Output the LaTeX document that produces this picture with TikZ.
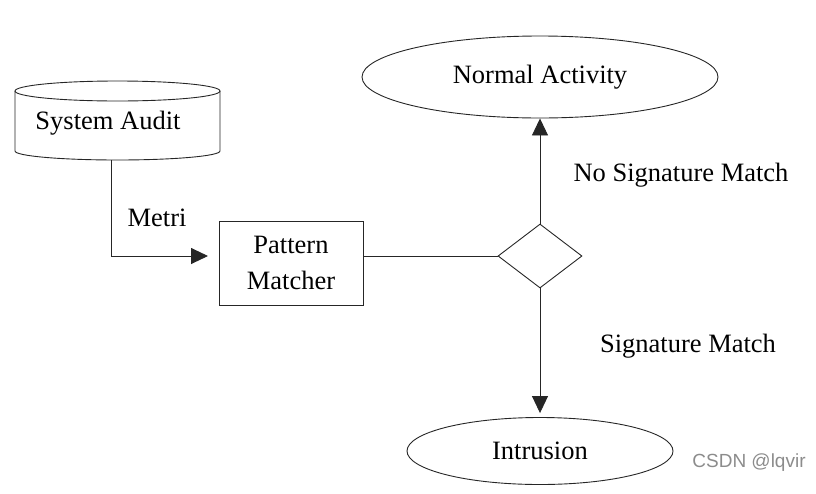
\documentclass[tikz,border=0pt]{standalone}
\usepackage{fontspec}
\setmainfont{Liberation Serif}
\newfontfamily\wmfont{Liberation Sans}
\usetikzlibrary{shapes.geometric,arrows.meta}
\begin{document}
\begin{tikzpicture}[x=1pt,y=-1pt,
  every node/.style={font=\fontsize{26.5}{31}\selectfont},
  ln/.style={line width=0.9pt,draw=black!85},
  arr/.style={ln,-{Triangle[length=17pt,width=16pt]}},
  oval/.style={ellipse,ln,inner sep=0pt},
  lbl/.style={inner sep=0pt}]
\useasboundingbox (0,0) rectangle (816,493);
% System Audit cylinder
\draw[ln] (117.5,91) ellipse [x radius=102.5, y radius=10];
\draw[ln] (15,91) -- (15,151) arc[start angle=180, end angle=0, x radius=102.5, y radius=9] -- (220,91);
\node[lbl] (sa) at (108,123) {System Audit};
\coordinate (sab) at (111,160);
% Pattern matcher
\node[ln,draw,rectangle,minimum width=144pt,minimum height=84pt,inner sep=0pt,align=center,
  font=\fontsize{26.5}{36}\selectfont] (pm) at (291,263) {Pattern\\Matcher};
\coordinate (pmin) at (208,256);
\coordinate (pmout) at (363,256);
% Decision diamond
\node[diamond,ln,draw,minimum width=84pt,minimum height=64pt,aspect=1.3125,inner sep=0pt] (dec) at (540,256) {};
% Outcomes
\node[oval,draw,minimum width=356pt,minimum height=82pt] (na) at (540,77) {Normal Activity};
\node[oval,draw,minimum width=266pt,minimum height=67pt] (in) at (540,451) {Intrusion};
% Connectors
\draw[arr] (sab) |- (pmin);
\draw[ln] (pmout) -- (dec.west);
\draw[arr] (dec.north) -- (na.south);
\draw[arr,shorten >=4pt] (dec.south) -- (in.north);
% Labels
\node[lbl] (lm) at (157,218) {Metri};
\node[lbl] (lns) at (681,175) {No Signature Match};
\node[lbl] (ls) at (688,346) {Signature Match};
\node[lbl,font=\wmfont\fontsize{19}{22}\selectfont,text=black!45] (wm) at (749,463) {CSDN @lqvir};
\end{tikzpicture}
\end{document}
